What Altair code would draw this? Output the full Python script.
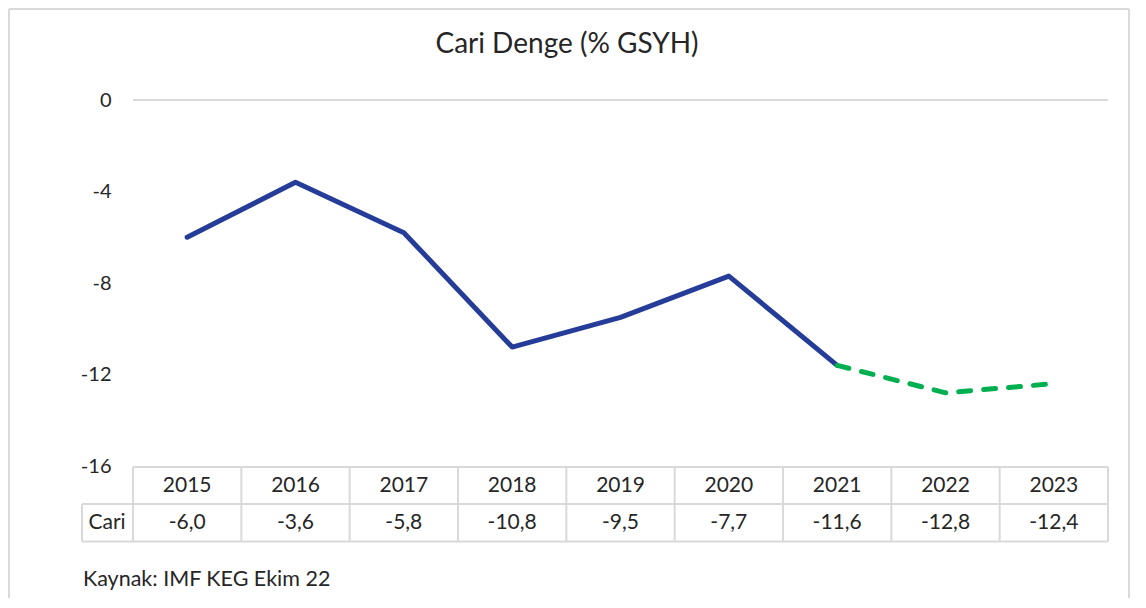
import altair as alt
import pandas as pd

# ---- data ----
years = ["2015", "2016", "2017", "2018", "2019", "2020", "2021", "2022", "2023"]
values = [-6.0, -3.6, -5.8, -10.8, -9.5, -7.7, -11.6, -12.8, -12.4]
forecast_start = "2021"
row_name = "Cari"
title_text = "Cari Denge (% GSYH)"
source_text = "Kaynak: IMF KEG Ekim 22"
y_ticks = [0, -4, -8, -12, -16]

FONT = "Lato"
TXT = "#262626"
GRID = "#d9d9d9"
NAVY = "#253D98"
GREEN = "#00B050"
W, H = 975, 366

labels = [f"{v:.1f}".replace(".", ",") for v in values]
df = pd.DataFrame({"year": years, "value": values, "label": labels})
i0 = years.index(forecast_start)
solid = df.iloc[: i0 + 1]
dashed = df.iloc[i0:]
last = df.iloc[[-1]]
one = pd.DataFrame({"a": [0]})

xscale = alt.Scale(domain=years, paddingInner=0, paddingOuter=0)
yscale = alt.Scale(domain=[-16, 0], nice=False, zero=False)


def X(bp=0.5):
    return alt.X("year:N", scale=xscale, axis=None, bandPosition=bp)


yaxis = alt.Axis(values=y_ticks, grid=False, domain=False, ticks=False,
                 labelPadding=22, labelFontSize=20, labelColor=TXT,
                 labelFont=FONT, labelFlush=False, title=None,
                 labelExpr="'' + datum.value")

# y axis carrier (invisible points)
axis_layer = alt.Chart(df).mark_point(opacity=0).encode(
    x=X(), y=alt.Y("value:Q", scale=yscale, axis=yaxis))

zero_line = alt.Chart(one).mark_rule(color=GRID, strokeWidth=2).encode(
    y=alt.datum(0), x=alt.value(0), x2=alt.value(W))

line_solid = alt.Chart(solid).mark_line(
    color=NAVY, strokeWidth=5, strokeCap="round", strokeJoin="round").encode(
    x=X(), y=alt.Y("value:Q", scale=yscale))

line_dash = alt.Chart(dashed).mark_line(
    color=GREEN, strokeWidth=5, strokeCap="round", strokeJoin="round",
    strokeDash=[12, 13]).encode(
    x=X(), y=alt.Y("value:Q", scale=yscale))

# ---- data table ----
T_TOP, T_MID, T_BOT = 367, 404, 441.5
RL = -51  # left edge of row-name cell
tline = dict(color=GRID, strokeWidth=2)

h_top = alt.Chart(one).mark_rule(**tline).encode(
    x=alt.value(0), x2=alt.value(W), y=alt.value(T_TOP))
h_mid = alt.Chart(one).mark_rule(**tline).encode(
    x=alt.value(RL), x2=alt.value(W), y=alt.value(T_MID))
h_bot = alt.Chart(one).mark_rule(**tline).encode(
    x=alt.value(RL), x2=alt.value(W), y=alt.value(T_BOT))
v_cells = alt.Chart(df).mark_rule(**tline).encode(
    x=X(0), y=alt.value(T_TOP), y2=alt.value(T_BOT))
v_last = alt.Chart(last).mark_rule(**tline).encode(
    x=X(1), y=alt.value(T_TOP), y2=alt.value(T_BOT))
v_row = alt.Chart(one).mark_rule(**tline).encode(
    x=alt.value(RL), y=alt.value(T_MID), y2=alt.value(T_BOT))

tfont = dict(font=FONT, fontSize=21, color=TXT, baseline="middle")
hdr = alt.Chart(df).mark_text(**tfont).encode(
    x=X(), y=alt.value(386), text="year:N")
vals = alt.Chart(df).mark_text(**tfont).encode(
    x=X(), y=alt.value(423), text="label:N")
rown = alt.Chart(pd.DataFrame({"t": [row_name]})).mark_text(**tfont).encode(
    x=alt.value(-26), y=alt.value(423), text="t:N")

# ---- title, source, border ----
title = alt.Chart(pd.DataFrame({"t": [title_text]})).mark_text(
    font=FONT, fontSize=28, color=TXT, baseline="middle", align="center").encode(
    x=alt.value(434), y=alt.value(-55), text="t:N")
source = alt.Chart(pd.DataFrame({"t": [source_text]})).mark_text(
    font=FONT, fontSize=21.5, color=TXT, baseline="middle", align="left").encode(
    x=alt.value(-50), y=alt.value(480), text="t:N")

bline = dict(color=GRID, strokeWidth=2)
b_left = alt.Chart(one).mark_rule(**bline).encode(
    x=alt.value(-124), y=alt.value(-91), y2=alt.value(500))
b_right = alt.Chart(one).mark_rule(**bline).encode(
    x=alt.value(996), y=alt.value(-91), y2=alt.value(500))
b_top = alt.Chart(one).mark_rule(**bline).encode(
    x=alt.value(-124), x2=alt.value(996), y=alt.value(-91))

chart = alt.layer(
    axis_layer, zero_line, h_top, h_mid, h_bot, v_cells, v_last, v_row,
    line_solid, line_dash, hdr, vals, rown, title, source,
    b_left, b_right, b_top,
).properties(
    width=W, height=H,
    autosize=alt.AutoSizeParams(type="none"),
    padding={"left": 125, "top": 92, "right": 24, "bottom": 132},
).configure(background="white").configure_view(stroke=None)

chart.save("out.html", embed_options={"renderer": "svg", "actions": False})
